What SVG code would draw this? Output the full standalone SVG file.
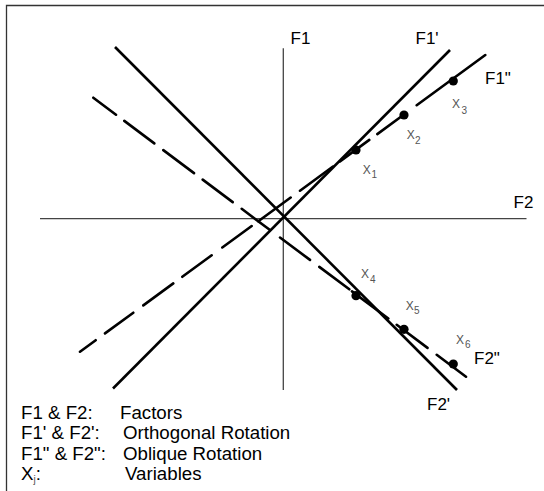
<svg xmlns="http://www.w3.org/2000/svg" width="544" height="491" viewBox="0 0 544 491">
<style>
.frame{fill:none;stroke:#333;stroke-width:1.3}
.axis{fill:none;stroke:#444;stroke-width:1.3}
.rot{fill:none;stroke:#000;stroke-width:2.6;stroke-linecap:butt}
.obl{fill:none;stroke:#000;stroke-width:2.6;stroke-linecap:round}
.lbl{font-family:"Liberation Sans",Arial,sans-serif;font-size:17px;fill:#000}
.leg{font-family:"Liberation Sans",Arial,sans-serif;font-size:18.7px;fill:#000}
.xv{font-family:"Liberation Sans",Arial,sans-serif;font-size:12px;fill:#555}
.xs{font-family:"Liberation Sans",Arial,sans-serif;font-size:10px;fill:#555}
.dot{fill:#000}
</style>
<rect width="544" height="491" fill="#fff"/>
<path class="frame" d="M6.5,491 V5.5 H544"/>
<g id="connectors">
<line id="F1" class="axis" x1="283.3" y1="48.3" x2="283.3" y2="390"/>
<line id="F2" class="axis" x1="40" y1="218.7" x2="526.5" y2="218.7"/>
<line id="F1p" class="rot" x1="113" y1="388.5" x2="450" y2="50"/>
<line id="F2p" class="rot" x1="115" y1="47" x2="457" y2="390"/>
<path id="F1pp" class="obl" d="M80,351.7 L95.7,340.2 M105,333.4 L133.3,312.7 M143.3,305.4 L173.3,283.4 M182.3,276.8 L211.7,255.3 M222.3,247.5 L251.7,226 M258.3,221.2 L290.7,197.5 M300,190.7 L333,166.5 M340,161.4 L369.3,139.9 M377.3,134.1 L404,114.5 M416.7,105.2 L485.3,55"/>
<path id="F2pp" class="obl" d="M93.3,97.7 L116,114.7 M124.3,120.9 L154.3,143.4 M163.3,150.1 L194,173.1 M202.7,179.6 L232.7,202.1 M241.7,208.8 L270,230 M280,237.5 L310,259.9 M319.3,266.9 L349.3,289.3 M352,291.4 L388.3,318.5 M396.7,324.8 L427.5,347.9 M436.7,354.8 L466,376.7"/>
</g>
<g id="labels">
<text class="lbl" x="290.5" y="43.5">F1</text>
<text class="lbl" x="415.5" y="43.5">F1'</text>
<text class="lbl" x="485" y="83.5">F1"</text>
<text class="lbl" x="513.5" y="208">F2</text>
<text class="lbl" x="474" y="364">F2"</text>
<text class="lbl" x="427" y="410">F2'</text>
</g>
<g id="X1"><circle class="dot" cx="356" cy="150" r="4.6"/><text class="xv" x="362.7" y="174">X</text><text class="xs" x="371.5" y="177.5">1</text></g>
<g id="X2"><circle class="dot" cx="404" cy="115" r="4.6"/><text class="xv" x="406.7" y="139.3">X</text><text class="xs" x="415" y="144">2</text></g>
<g id="X3"><circle class="dot" cx="453.3" cy="81" r="4.6"/><text class="xv" x="452" y="108.3">X</text><text class="xs" x="461.5" y="114">3</text></g>
<g id="X4"><circle class="dot" cx="356" cy="295.7" r="4.6"/><text class="xv" x="361" y="278.3">X</text><text class="xs" x="370" y="282.5">4</text></g>
<g id="X5"><circle class="dot" cx="404" cy="329.3" r="4.6"/><text class="xv" x="405.7" y="310">X</text><text class="xs" x="414" y="314">5</text></g>
<g id="X6"><circle class="dot" cx="453.3" cy="364" r="4.6"/><text class="xv" x="456" y="344">X</text><text class="xs" x="465" y="348">6</text></g>
<g id="legend">
<text class="leg" x="21" y="418.5">F1 &amp; F2:</text>
<text class="leg" x="120" y="418.5">Factors</text>
<text class="leg" x="21" y="439">F1' &amp; F2':</text>
<text class="leg" x="123" y="439">Orthogonal Rotation</text>
<text class="leg" x="21" y="459.5">F1" &amp; F2":</text>
<text class="leg" x="123" y="459.5">Oblique Rotation</text>
<text class="leg" x="21" y="480">X<tspan font-size="10" fill="#555" dy="3">j</tspan><tspan dy="-3">:</tspan></text>
<text class="leg" x="125" y="480">Variables</text>
</g>
</svg>
